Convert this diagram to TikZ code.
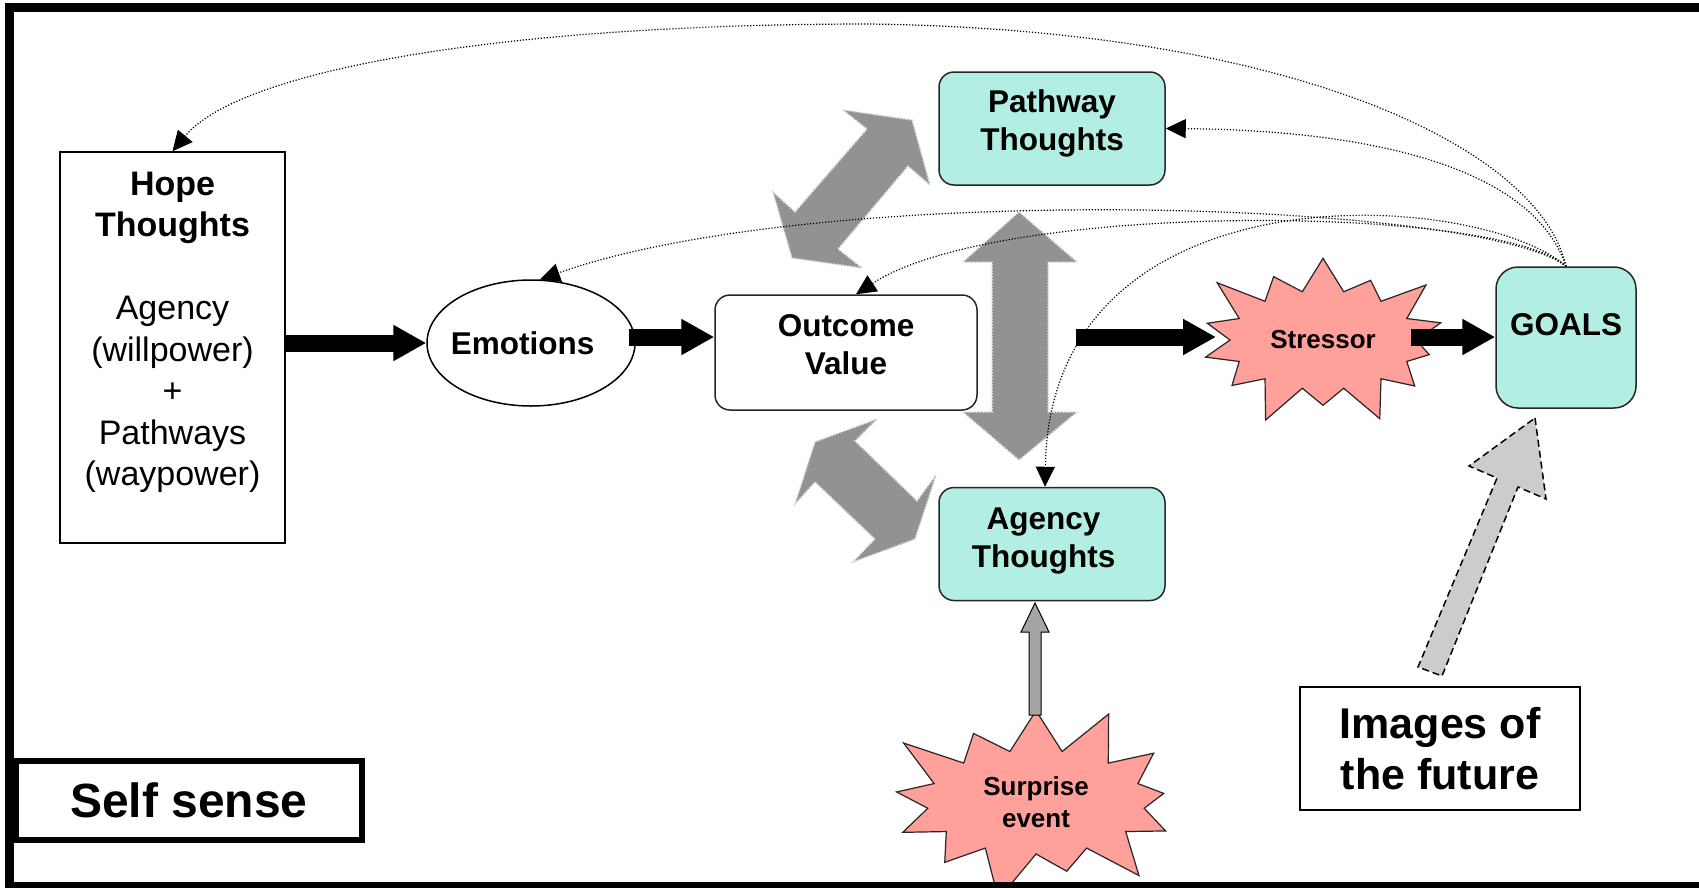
\documentclass[tikz,border=0pt]{standalone}
\usepackage{fontspec}
\setmainfont{Liberation Sans}
\usetikzlibrary{arrows.meta,shapes.geometric,shapes.symbols}
\definecolor{tealfill}{RGB}{178,238,226}
\definecolor{burstfill}{RGB}{255,160,155}
\definecolor{grayarr}{RGB}{146,146,146}
\definecolor{dasharr}{RGB}{204,204,204}
\definecolor{smallarr}{RGB}{165,165,165}
\newcommand\myfs[2]{\fontsize{#1}{#2}\selectfont}
\begin{document}
\begin{tikzpicture}[x=1pt,y=-1pt,
  tealbox/.style={draw=black!85, line width=1.5pt, fill=tealfill, rounded corners=15pt, inner sep=0pt,
     minimum width=226pt, minimum height=113pt, font=\myfs{31.5}{38}\bfseries},
  fatarrow/.style={line width=17pt, -{Triangle[length=33pt,width=34pt]}},
  dotarrow/.style={line width=1.2pt, dash pattern=on 1.2pt off 1.8pt, -{Triangle[length=20pt,width=19pt]}},
  grayarrow/.style={fill=grayarr, draw=white!70!gray, dash pattern=on 1.5pt off 1.5pt, line width=1.5pt},
  burstnode/.style={starburst, draw=black!85, line width=1.2pt, fill=burstfill, font=\myfs{26}{32}\bfseries, align=center, inner sep=0pt}
]
\pgfmathsetseed{7}
\useasboundingbox (0,0) rectangle (1699,887);
\clip (0,0) rectangle (1699,887);
\fill[white] (0,0) rectangle (1699,887);

% big gray double arrows
\filldraw[grayarrow] (843,110)--(912,120)--(930,185)--(908,166)--(838,249)--(862,268)--(792,258)--(773,192)--(795,212)--(867,129)--cycle;
\filldraw[grayarrow] (877,419)--(855,441)--(917,501)--(936,475)--(915,539)--(853,562)--(875,539)--(815,482)--(795,504)--(815,442)--cycle;
\filldraw[grayarrow] (1019,212)--(1077,262)--(1048,262)--(1048,412)--(1077,412)--(1019,460)--(963,412)--(992,412)--(992,262)--(963,262)--cycle;

% nodes
\node[draw, line width=1.5pt, minimum width=225pt, minimum height=391pt, inner sep=0pt, text height=30pt, text depth=335pt,
      font=\myfs{34}{41.5}] (hope) at (172.5,347.5)
  {\begin{tabular}[t]{@{}c@{}}\textbf{Hope}\\\textbf{Thoughts}\\[41.5pt]Agency\\(willpower)\\+\\Pathways\\(waypower)\end{tabular}};
\node[ellipse, draw, line width=1.5pt, fill=white, minimum width=208pt, minimum height=126pt, inner sep=0pt,
      font=\myfs{31.5}{38}\bfseries] (emo) at (531,343) {\hspace*{-17pt}Emotions};
\node[tealbox, fill=white, text height=23pt, text depth=55.4pt, minimum width=262pt, minimum height=115pt] (ov) at (846,352.5)
  {\begin{tabular}[t]{@{}c@{}}Outcome\\Value\end{tabular}};
\node[tealbox, text height=23pt, text depth=55.4pt] (pw) at (1052,128.5)
  {\begin{tabular}[t]{@{}c@{}}Pathway\\Thoughts\end{tabular}};
\node[tealbox, text height=23pt, text depth=52.4pt] (ag) at (1052,544)
  {\hspace*{-17pt}\begin{tabular}[t]{@{}c@{}}Agency\\Thoughts\end{tabular}};
\node[tealbox, rounded corners=22pt, minimum width=140pt, minimum height=141pt, text height=23pt, text depth=28pt] (goals) at (1566,337.5) {GOALS};
\node[burstnode, starburst points=14, starburst point height=45pt, minimum width=276pt, minimum height=189pt] (stress) at (1323,340) {Stressor};
\node[burstnode, starburst points=13, starburst point height=55pt, minimum width=328pt, minimum height=214pt] (surp) at (1036,802) {Surprise\\event};
\node[draw, line width=1.5pt, minimum width=280pt, minimum height=123pt, inner sep=0pt, align=center,
      font=\myfs{43}{51}\bfseries] (img) at (1440,748.5) {Images of\\the future};

% black fat arrows
\draw[fatarrow] (hope.east |- emo.west) -- (emo.west);
\draw[fatarrow] ([shift={(-7,-6)}]emo.east) -- ([shift={(0,-15.5)}]ov.west);
\draw[fatarrow] ([shift={(98,-15.5)}]ov.east) -- ([shift={(-107,-3)}]stress.center);
\draw[fatarrow] ([shift={(88,-3)}]stress.center) -- ([shift={(0,-0.5)}]goals.west);

% small gray arrow
\filldraw[fill=smallarr, draw=black, line width=1pt] (1029,715)--(1041,715)--(1041,632)--(1049,632)--(1035,603)--(1021,632)--(1029,632)--cycle;
% dashed arrow
\filldraw[fill=dasharr, draw=black, line width=1.5pt, dash pattern=on 7pt off 4pt] (1535,418)--(1546,499)--(1518,487)--(1442,676)--(1418,667)--(1497,478)--(1469,466)--cycle;

% dotted connectors
\draw[dotarrow] (goals.north) .. controls (1540,150) and (1300,30) .. (870,24) .. controls (500,24) and (240,70) .. (hope.north);
\draw[dotarrow] (goals.north) .. controls (1530,160) and (1350,130) .. (pw.east);
\draw[dotarrow] (goals.north) .. controls (1480,200) and (820,180) .. (emo.82);
\draw[dotarrow] (goals.north) .. controls (1500,205) and (1000,200) .. ([xshift=10pt]ov.north);
\draw[dotarrow] (goals.north) .. controls (1480,190) and (1050,160) .. ([xshift=-7pt]ag.north);

% frame
\draw[line width=9pt] (9,7.5) rectangle (1720,886);
\node[draw, line width=6pt, fill=white, minimum width=346pt, minimum height=79pt, inner sep=0pt,
      font=\myfs{48}{56}\bfseries] (self) at (189,800.5) {Self sense};
\end{tikzpicture}
\end{document}
